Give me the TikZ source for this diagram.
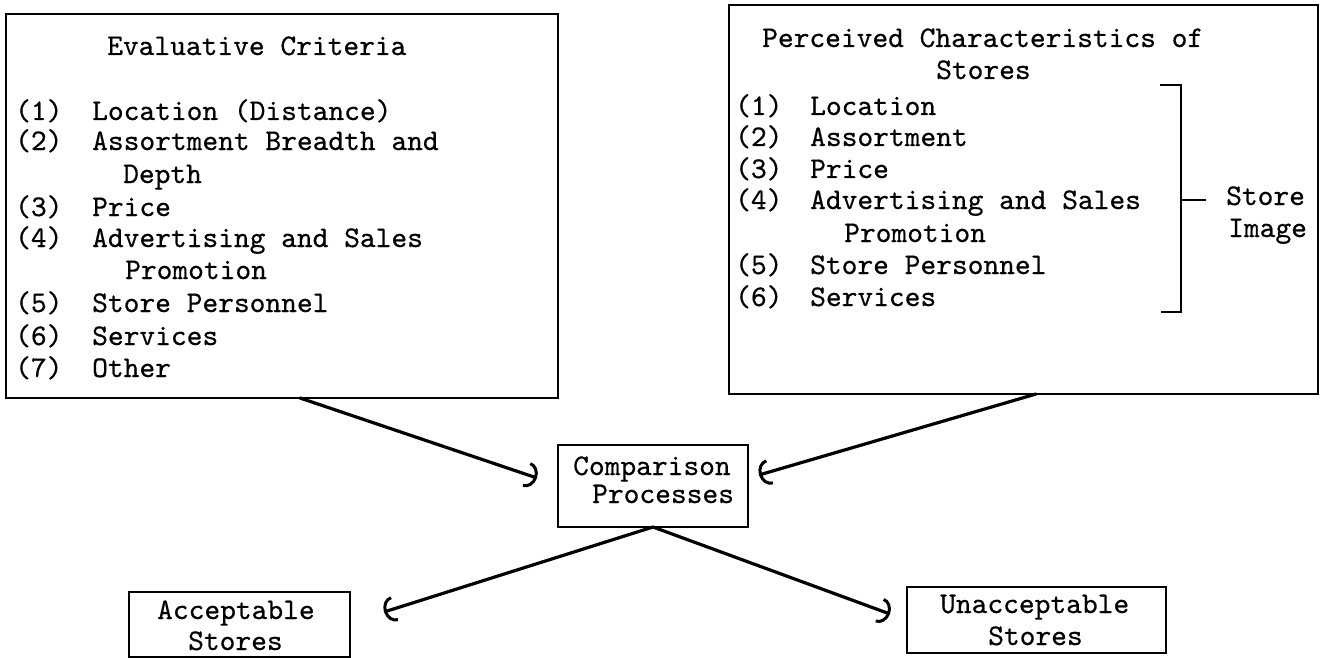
\documentclass[tikz,border=0pt]{standalone}
\usepackage{fontspec}
\newfontfamily\tw{lmmono10-regular.otf}[FakeBold=0.5]
\usetikzlibrary{arrows.meta}
\tikzset{
  frame/.style={draw, line width=2pt, inner sep=0pt, outer sep=0pt},
  txt/.style={anchor=base west, inner sep=0pt, font=\tw\fontsize{30}{32}\selectfont},
  flow/.style={line width=3.2pt, line cap=round,
    -{Arc Barb[length=11pt, width=26pt, line width=3pt]}},
  brk/.style={line width=2pt}
}
\newcommand\tline[4]{\node[txt] (#1) at (#2,#3) {#4};}
\begin{document}
\begin{tikzpicture}[x=1pt,y=-1pt]
\useasboundingbox (0,0) rectangle (1323,658);

% boxes
\node[frame, minimum width=552pt, minimum height=384pt] (crit)  at (282,206) {};
\node[frame, minimum width=589pt, minimum height=389pt] (percv) at (1023.5,199.5) {};
\node[frame, minimum width=190pt, minimum height=82pt]  (cmp)   at (653,486) {};
\node[frame, minimum width=221pt, minimum height=65pt]  (acc)   at (239.5,624.5) {};
\node[frame, minimum width=259pt, minimum height=66pt]  (unacc) at (1036.5,620) {};

% evaluative criteria
\tline{ecT}{107}{55}{Evaluative Criteria}
\tline{ecN1}{15}{120}{(1)} \tline{ecI1}{92}{120}{Location (Distance)}
\tline{ecN2}{15}{150}{(2)} \tline{ecI2}{92}{150}{Assortment Breadth and}
\tline{ecC2}{123}{183}{Depth}
\tline{ecN3}{15}{216}{(3)} \tline{ecI3}{92}{216}{Price}
\tline{ecN4}{15}{247}{(4)} \tline{ecI4}{92}{247}{Advertising and Sales}
\tline{ecC4}{125}{279}{Promotion}
\tline{ecN5}{15}{312}{(5)} \tline{ecI5}{92}{312}{Store Personnel}
\tline{ecN6}{15}{345}{(6)} \tline{ecI6}{92}{345}{Services}
\tline{ecN7}{15}{377}{(7)} \tline{ecI7}{92}{377}{Other}

% perceived characteristics
\tline{pcT1}{762}{47}{Perceived Characteristics of}
\tline{pcT2}{936}{79}{Stores}
\tline{pcN1}{735}{115}{(1)} \tline{pcI1}{810}{115}{Location}
\tline{pcN2}{735}{146}{(2)} \tline{pcI2}{810}{146}{Assortment}
\tline{pcN3}{735}{178}{(3)} \tline{pcI3}{810}{178}{Price}
\tline{pcN4}{735}{209}{(4)} \tline{pcI4}{810}{209}{Advertising and Sales}
\tline{pcC4}{844}{242}{Promotion}
\tline{pcN5}{735}{274}{(5)} \tline{pcI5}{810}{274}{Store Personnel}
\tline{pcN6}{735}{306}{(6)} \tline{pcI6}{810}{306}{Services}

% store image bracket
\draw[brk] (1160,85) -- (1181,85) -- (1181,312) -- (1161,312);
\coordinate (brkmid) at (1181,200);
\tline{siA}{1226}{205}{Store}
\tline{siB}{1228}{237}{Image}
\draw[brk] (brkmid) -- ([xshift=-20pt]siA.west |- brkmid);

% small boxes
\tline{cmpA}{573}{475}{Comparison}
\tline{cmpB}{592}{503}{Processes}
\tline{accA}{157}{619}{Acceptable}
\tline{accB}{188}{650}{Stores}
\tline{unaA}{940}{613}{Unacceptable}
\tline{unaB}{988}{645}{Stores}

% flows
\draw[flow] ([xshift=18pt]crit.south) -- ([xshift=-21pt,yshift=8pt]cmp.west);
\draw[flow] ([xshift=12.5pt]percv.south) -- ([xshift=11pt,yshift=11pt]cmp.east);
\draw[flow] (cmp.south) -- ([xshift=34pt,yshift=12.5pt]acc.east);
\draw[flow] (cmp.south) -- ([xshift=-17pt,yshift=6pt]unacc.west);
\end{tikzpicture}
\end{document}
